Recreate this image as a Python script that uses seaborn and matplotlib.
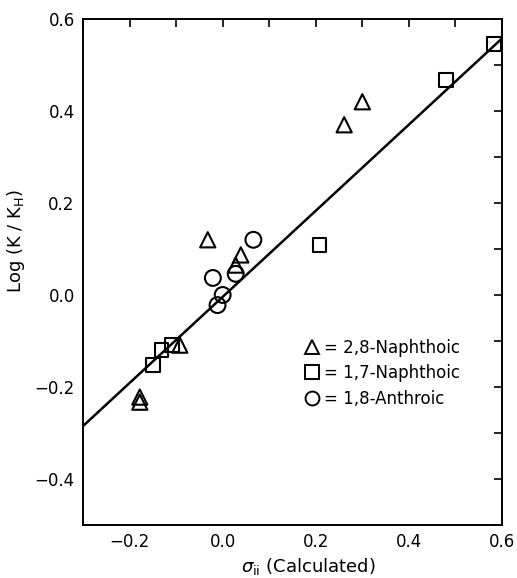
import numpy as np
import pandas as pd
import matplotlib
matplotlib.use("Agg")
import matplotlib.pyplot as plt
from matplotlib.ticker import MultipleLocator
from matplotlib.lines import Line2D
import seaborn as sns

# sigma_ii (calculated) vs log(K/K_H) for three series
tri_x = [-0.178, -0.178, -0.092, -0.032, 0.028, 0.039, 0.261, 0.300]
tri_y = [-0.222, -0.233, -0.109, 0.120, 0.065, 0.087, 0.370, 0.420]
sq_x = [-0.150, -0.131, -0.109, 0.208, 0.480, 0.583]
sq_y = [-0.152, -0.120, -0.109, 0.109, 0.467, 0.546]
circ_x = [-0.021, -0.011, 0.000, 0.028, 0.066]
circ_y = [0.037, -0.022, 0.000, 0.046, 0.120]

# correlation line
fit_x = [-0.30, 0.61]
fit_y = [-0.285, 0.567]

labels = ["2,8-Naphthoic", "1,7-Naphthoic", "1,8-Anthroic"]

df = pd.concat([
    pd.DataFrame({"sigma": tri_x, "logk": tri_y, "acid": labels[0]}),
    pd.DataFrame({"sigma": sq_x, "logk": sq_y, "acid": labels[1]}),
    pd.DataFrame({"sigma": circ_x, "logk": circ_y, "acid": labels[2]}),
])

sns.set_style("white")
plt.rcParams["font.family"] = ["DejaVu Sans"]
plt.rcParams.update({"text.color": "black", "axes.labelcolor": "black",
                     "xtick.color": "black", "ytick.color": "black"})

fig = plt.figure(figsize=(5.17, 5.78), dpi=100)
ax = fig.add_axes([0.1605, 0.0917, 0.8105, 0.8755])

sns.lineplot(x=fit_x, y=fit_y, ax=ax, color="black", linewidth=1.8)

markers = {labels[0]: "^", labels[1]: "s", labels[2]: "o"}
sizes = {labels[0]: 120, labels[1]: 95, labels[2]: 130}
for name in labels:
    sub = df[df["acid"] == name]
    sns.scatterplot(data=sub, x="sigma", y="logk", ax=ax, marker=markers[name],
                    s=sizes[name], facecolors="none", edgecolor="black",
                    linewidth=1.5, legend=False, zorder=3)

ax.set_xlim(-0.3, 0.6)
ax.set_ylim(-0.5, 0.6)
ax.xaxis.set_minor_locator(MultipleLocator(0.1))
ax.yaxis.set_minor_locator(MultipleLocator(0.1))
ax.set_xticks([-0.2, 0.0, 0.2, 0.4, 0.6])
ax.set_xticklabels(["\u22120.2", "0.0", "0.2", "0.4", "0.6"])
ax.set_yticks([-0.4, -0.2, 0.0, 0.2, 0.4, 0.6])
ax.set_yticklabels(["\u22120.4", "\u22120.2", "0.0", "0.2", "0.4", "0.6"])
ax.tick_params(which="both", direction="in", top=True, right=True,
               length=6, width=1.2, labelsize=12, pad=6)
for sp in ax.spines.values():
    sp.set_linewidth(1.4)
    sp.set_color("black")

ax.set_xlabel(r"$\sigma_{\rm ii}$ (Calculated)", fontsize=13)
ax.set_ylabel(r"Log (K / K$_{\rm H}$)", fontsize=13)
ax.xaxis.set_label_coords(0.537, -0.062)
ax.yaxis.set_label_coords(-0.134, 0.561)

handles = [Line2D([], [], linestyle="none", marker=markers[n], markersize=10,
                  markerfacecolor="none", markeredgecolor="black",
                  markeredgewidth=1.4) for n in labels]
ax.legend(handles, ["= " + n for n in labels], loc="upper left",
          bbox_to_anchor=(0.523, 0.368), frameon=False, fontsize=12,
          handletextpad=0.1, handlelength=1.2, labelspacing=0.45,
          borderaxespad=0, borderpad=0)

fig.savefig("out.png", dpi=100)
